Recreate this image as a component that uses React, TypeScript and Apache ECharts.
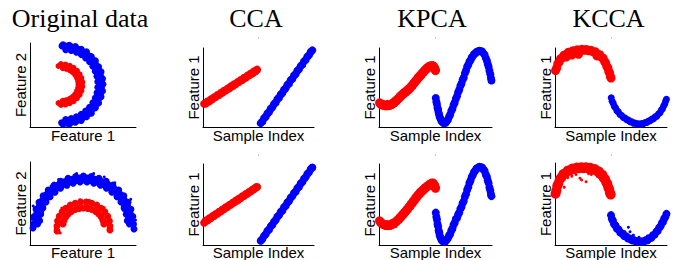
import React, { useEffect, useRef } from 'react';
import * as echarts from 'echarts';

// ---------- texts ----------
const panelTitles = ['Original data', 'CCA', 'KPCA', 'KCCA'];
const xAxisNames = ['Feature 1', 'Sample Index', 'Sample Index', 'Sample Index'];
const yAxisNames = ['Feature 2', 'Feature 1', 'Feature 1', 'Feature 1'];

type Pt = [number, number];

// ---------- Original data (Feature 1, Feature 2), row 1 ----------
const origRow1Blue: Pt[] = [
  [31.1, 98.0], [37.0, 97.2], [42.8, 95.9], [48.3, 92.5], [53.3, 89.4], [57.8, 83.9], [61.7, 78.8],
  [64.7, 71.8], [67.0, 65.6], [68.4, 57.5], [68.8, 50.9], [68.4, 42.8], [67.0, 36.1], [64.7, 28.5],
  [61.7, 22.9], [57.8, 16.5], [53.3, 12.3], [48.3, 7.8], [42.8, 5.7], [37.0, 3.3], [31.1, 3.4],
  [33.9, 96.3], [39.6, 95.1], [45.0, 92.9], [50.1, 89.5], [54.7, 85.4], [58.7, 80.3], [62.0, 74.5],
  [64.7, 68.1], [66.4, 61.3], [67.3, 54.1], [67.3, 47.0], [66.4, 39.9], [64.7, 33.1], [62.0, 26.7],
  [58.7, 20.8], [54.7, 15.7], [50.1, 11.5], [45.0, 8.2], [39.6, 6.1], [33.9, 4.9],
  [33.7, 92.1], [38.9, 91.0], [43.8, 89.0], [48.4, 86.2], [52.5, 82.2], [56.2, 77.6], [59.3, 72.4],
  [61.6, 66.5], [63.2, 60.3], [64.0, 53.8], [64.0, 47.4], [63.2, 40.8], [61.6, 34.6], [59.3, 28.8],
  [56.2, 23.6], [52.5, 18.9], [48.4, 15.0], [43.8, 12.1], [38.9, 10.1], [33.7, 9.0],
  [30.2, 96.5], [29.8, 5.0],
];
const origRow1Red: Pt[] = [
  [29.2, 75.0], [33.5, 74.4], [37.5, 72.8], [41.1, 70.3], [44.3, 66.9], [46.8, 62.7], [48.5, 58.1],
  [49.4, 53.1], [49.4, 48.1], [48.5, 43.1], [46.8, 38.3], [44.3, 34.3], [41.1, 30.8], [37.5, 28.3],
  [33.5, 26.7], [29.2, 26.2],
  [30.9, 70.1], [34.3, 69.3], [37.5, 67.6], [40.3, 65.2], [42.6, 62.1], [44.3, 58.5], [45.4, 54.6],
  [45.7, 50.6], [45.4, 46.5], [44.3, 42.6], [42.6, 39.0], [40.3, 35.9], [37.5, 33.6], [34.3, 31.9],
  [30.9, 31.1], [26.9, 72.6], [26.9, 28.6], [47.3, 56.0], [47.6, 45.5],
];

// ---------- Original data, row 2 ----------
const origRow2Blue: Pt[] = [
  [3.3, 25.3], [3.9, 34.3], [5.7, 43.1], [8.5, 51.6], [12.4, 59.3], [17.2, 66.2], [22.7, 72.1],
  [29.0, 76.9], [35.9, 80.3], [43.1, 82.4], [50.4, 83.1], [57.8, 82.4], [65.0, 80.3], [71.9, 76.9],
  [78.2, 72.1], [83.7, 66.2], [88.5, 59.3], [92.4, 51.6], [95.2, 43.1], [97.0, 34.3], [97.6, 25.3],
  [5.4, 29.6], [6.4, 38.2], [8.7, 46.5], [11.9, 54.2], [16.0, 61.3], [21.0, 67.5], [26.8, 72.5],
  [33.1, 76.5], [39.9, 79.2], [47.0, 80.6], [53.9, 80.6], [61.0, 79.2], [67.8, 76.5], [74.1, 72.5],
  [79.9, 67.5], [84.9, 61.3], [89.0, 54.2], [92.2, 46.5], [94.5, 38.2], [95.5, 29.6],
  [7.1, 25.3], [7.6, 33.6], [9.2, 41.7], [11.8, 49.4], [15.4, 56.5], [19.8, 62.8], [25.0, 68.2],
  [30.7, 72.5], [37.1, 75.7], [43.7, 77.7], [50.4, 78.3], [57.2, 77.7], [63.8, 75.7], [70.2, 72.5],
  [75.9, 68.2], [81.1, 62.8], [85.5, 56.5], [89.1, 49.4], [91.7, 41.7], [93.3, 33.6], [93.8, 25.3],
  [9.1, 29.3], [10.1, 37.1], [12.1, 44.7], [15.1, 51.7], [19.0, 58.2], [23.6, 63.7], [28.8, 68.4],
  [34.5, 72.1], [40.7, 74.5], [47.2, 75.8], [53.7, 75.8], [60.2, 74.5], [66.4, 72.1], [72.1, 68.4],
  [77.3, 63.7], [82.0, 58.2], [85.8, 51.7], [88.8, 44.7], [90.8, 37.1], [91.8, 29.3],
  [2.8, 20.5], [98.1, 19.3],
];
const origRow2BlueSpecks: Pt[] = [
  [1.5, 31.0], [99.0, 24.0], [27.0, 79.0], [80.0, 75.0], [44.0, 86.0], [60.0, 86.0], [95.0, 55.0],
  [3.0, 47.0], [70.0, 82.0], [20.0, 71.0], [12.0, 40.0], [88.0, 42.0], [99.5, 30.0], [36.0, 70.0],
];
const origRow2Red: Pt[] = [
  [25.5, 22.9], [26.0, 28.9], [27.6, 34.7], [30.3, 39.9], [33.8, 44.3], [38.0, 48.0], [42.7, 50.4],
  [47.8, 51.7], [53.1, 51.7], [58.2, 50.4], [63.0, 48.0], [67.1, 44.3], [70.6, 39.9], [73.3, 34.7],
  [74.9, 28.9], [75.4, 22.9],
  [31.2, 25.2], [32.1, 29.6], [33.7, 33.7], [36.1, 37.4], [39.0, 40.5], [42.6, 42.8], [46.4, 44.1],
  [50.4, 44.6], [54.5, 44.1], [58.3, 42.8], [61.9, 40.5], [64.8, 37.4], [67.2, 33.7], [68.8, 29.6],
  [69.7, 25.2], [25.5, 16.9], [75.4, 18.1],
];
const origRow2RedSpecks: Pt[] = [
  [24.0, 20.0], [76.5, 17.0], [47.0, 54.5], [56.0, 54.0], [30.0, 44.5], [70.0, 45.0], [28.5, 14.5],
];

// ---------- CCA (sample index, feature 1) ----------
const ccaRow1Red: Pt[] = [
  [4, 29.4], [10, 29.6], [16, 32.2], [22, 32.3], [28, 35.0], [34, 35.0], [40, 37.7], [46, 37.8],
  [52, 40.4], [58, 40.6], [64, 43.2], [70, 43.2], [76, 45.9], [82, 46.0], [88, 48.6], [94, 48.7],
  [100, 51.4], [106, 51.4], [112, 54.1], [118, 54.1], [124, 56.8], [130, 56.9], [136, 59.5],
  [142, 59.6], [148, 62.3], [154, 62.3], [160, 65.0], [166, 65.1], [172, 67.7], [178, 67.8],
  [184, 70.5], [190, 70.5], [195, 72.6],
];
const ccaRow1Blue: Pt[] = [
  [208, 4.9], [214, 7.1], [220, 11.0], [226, 13.0], [232, 17.1], [238, 19.0], [244, 23.1], [250, 25.0],
  [256, 29.1], [262, 31.0], [268, 35.1], [274, 37.0], [280, 41.1], [286, 43.0], [292, 47.1],
  [298, 49.0], [304, 53.1], [310, 55.0], [316, 59.1], [322, 61.0], [328, 65.1], [334, 67.0],
  [340, 71.1], [346, 73.0], [352, 77.1], [358, 79.0], [364, 83.1], [370, 85.0], [376, 89.1],
  [382, 91.0], [388, 95.0], [394, 97.0],
];
const ccaRow2Red: Pt[] = [
  [4, 27.5], [10, 30.1], [16, 30.3], [22, 32.9], [28, 33.0], [34, 35.6], [40, 35.8], [46, 38.3],
  [52, 38.6], [58, 41.0], [64, 41.3], [70, 43.8], [76, 44.1], [82, 46.5], [88, 46.8], [94, 49.2],
  [100, 49.6], [106, 52.0], [112, 52.3], [118, 54.8], [124, 55.0], [130, 57.5], [136, 57.8],
  [142, 60.2], [148, 60.5], [154, 62.9], [160, 63.3], [166, 65.6], [172, 66.0], [178, 68.4],
  [184, 68.8], [190, 71.1], [195, 71.5],
];
const ccaRow2Blue: Pt[] = [
  [208, 5.2], [214, 7.4], [220, 11.3], [226, 13.2], [232, 17.2], [238, 19.1], [244, 23.0], [250, 25.0],
  [256, 28.9], [262, 30.9], [268, 34.8], [274, 36.8], [280, 40.7], [286, 42.6], [292, 46.6],
  [298, 48.5], [304, 52.4], [310, 54.4], [316, 58.3], [322, 60.3], [328, 64.2], [334, 66.1],
  [340, 70.1], [346, 72.0], [352, 76.0], [358, 77.9], [364, 81.8], [370, 83.8], [376, 87.7],
  [382, 89.7], [388, 93.5], [394, 95.6],
];

// ---------- KPCA ----------
const kpcaRow1Red: Pt[] = [
  [2, 30.6], [6, 28.7], [10, 28.9], [14, 27.4], [18, 28.1], [22, 26.9], [26, 27.8], [30, 26.9],
  [34, 28.0], [38, 27.3], [42, 28.9], [46, 28.5], [50, 30.6], [54, 30.7], [58, 33.1], [62, 33.2],
  [66, 35.6], [70, 36.0], [74, 38.6], [78, 38.9], [82, 41.4], [86, 41.5], [90, 43.8], [94, 43.8],
  [98, 46.1], [102, 46.3], [106, 48.7], [110, 49.0], [114, 51.6], [118, 52.3], [122, 55.2],
  [126, 55.9], [130, 58.8], [134, 59.5], [138, 62.4], [142, 62.9], [146, 65.6], [150, 66.1],
  [154, 68.9], [158, 69.4], [162, 72.1], [166, 72.5], [170, 74.9], [174, 74.9], [178, 76.9],
  [182, 76.5], [186, 77.9], [189, 77.0], [192, 77.5], [195, 75.4], [197, 74.8], [199, 72.5],
  [200, 71.5],
];
const kpcaRow1RedSpecks: Pt[] = [
  [30, 32.5], [60, 27.5], [95, 50.0], [120, 49.0], [140, 66.5], [150, 61.5], [175, 80.5], [20, 23.5],
  [80, 45.5], [110, 54.5], [165, 68.0], [130, 53.5], [100, 41.5], [185, 81.0], [70, 31.5], [50, 26.0],
  [155, 73.5], [115, 57.0], [8, 33.5], [40, 23.5],
];
const kpcaRow1Blue: Pt[] = [
  [201, 36.8], [203, 32.0], [205, 28.9], [207, 24.3], [209, 21.9], [211, 17.8], [213, 15.6],
  [215, 12.4], [218, 10.3], [221, 7.5], [224, 6.5], [228, 5.0], [232, 5.3], [236, 5.4], [240, 7.6],
  [244, 9.2], [248, 12.9], [252, 15.8], [256, 20.2], [260, 23.2], [264, 27.9], [268, 31.1],
  [272, 35.9], [276, 39.0], [280, 43.9], [284, 47.1], [288, 51.9], [292, 55.1], [296, 59.9],
  [300, 62.6], [304, 67.9], [308, 71.6], [312, 76.4], [316, 78.8], [320, 82.7], [324, 84.6],
  [328, 88.0], [332, 89.4], [336, 92.0], [340, 93.0], [345, 95.1], [350, 95.5], [355, 96.5],
  [360, 96.0], [365, 95.6], [370, 93.2], [374, 91.3], [378, 87.2], [382, 83.8], [385, 79.7],
  [388, 76.3], [391, 71.2], [394, 66.8], [396, 62.2], [398, 58.8],
];
const kpcaRow2Red: Pt[] = [
  [2, 29.8], [6, 27.6], [10, 27.0], [14, 25.4], [18, 25.6], [22, 24.2], [26, 24.9], [30, 23.8],
  [34, 24.8], [38, 24.1], [42, 25.5], [46, 25.1], [50, 26.9], [54, 26.7], [58, 28.6], [62, 28.9],
  [66, 31.1], [70, 31.6], [74, 34.1], [78, 34.5], [82, 37.1], [86, 37.7], [90, 40.4], [94, 41.0],
  [98, 43.6], [102, 44.3], [106, 47.1], [110, 47.9], [114, 50.8], [118, 51.6], [122, 54.6],
  [126, 55.4], [130, 58.4], [134, 59.0], [138, 61.9], [142, 62.4], [146, 65.1], [150, 65.3],
  [154, 67.8], [158, 68.0], [162, 70.4], [166, 70.6], [170, 72.6], [174, 72.6], [178, 74.8],
  [182, 74.6], [186, 76.4], [189, 75.6], [192, 76.5], [195, 74.0], [197, 73.5], [199, 71.0],
  [200, 70.0],
];
const kpcaRow2RedSpecks: Pt[] = [
  [30, 28.5], [60, 23.0], [95, 47.0], [120, 49.0], [140, 64.0], [150, 60.5], [175, 78.0], [20, 21.0],
  [80, 40.5], [110, 51.5], [160, 67.5], [45, 29.5], [130, 54.0], [100, 39.5], [185, 79.0], [70, 27.5],
  [155, 71.5], [115, 55.0], [8, 32.0], [40, 20.5],
];
const kpcaRow2Blue: Pt[] = [
  [201, 40.0], [203, 35.0], [205, 31.5], [207, 26.0], [209, 23.0], [211, 18.0], [213, 15.5],
  [215, 11.6], [218, 9.4], [221, 6.4], [224, 5.6], [228, 4.0], [232, 4.4], [236, 4.6], [240, 6.9],
  [244, 8.2], [248, 11.7], [252, 13.6], [256, 17.8], [260, 20.4], [264, 25.0], [268, 27.6],
  [272, 32.0], [276, 33.2], [280, 37.6], [284, 40.0], [288, 44.6], [292, 47.0], [296, 51.6],
  [300, 54.2], [304, 59.6], [308, 62.8], [312, 68.0], [316, 71.3], [320, 76.5], [324, 79.6],
  [328, 84.0], [332, 86.4], [336, 90.0], [340, 91.4], [345, 94.5], [350, 95.2], [355, 96.6],
  [360, 96.0], [365, 95.7], [370, 93.1], [374, 91.4], [378, 87.0], [382, 83.9], [385, 79.6],
  [388, 76.4], [391, 71.0], [394, 67.4], [396, 63.0], [398, 60.3],
];

// ---------- KCCA ----------
const kccaRow1Red: Pt[] = [
  [2, 71.5], [6, 74.8], [10, 80.2], [15, 82.3], [20, 86.4], [26, 87.6], [32, 90.9], [40, 91.8],
  [48, 94.6], [56, 94.5], [64, 96.6], [72, 96.1], [80, 97.9], [88, 96.9], [96, 98.3], [104, 97.1],
  [112, 98.2], [120, 96.5], [128, 97.2], [136, 95.0], [144, 95.3], [152, 92.3], [160, 91.6],
  [166, 88.2], [172, 87.1], [177, 82.8], [181, 81.1], [185, 76.8], [189, 74.6], [192, 70.4],
  [195, 68.5], [198, 63.9], [200, 62.0],
  [84, 92.0], [40, 88.5], [150, 90.0], [60, 91.0],
];
const kccaRow1Blue: Pt[] = [
  [201, 36.9], [204, 32.5], [208, 29.9], [212, 26.0], [216, 24.4], [221, 20.7], [226, 19.2],
  [232, 15.8], [238, 14.6], [244, 12.0], [250, 11.4], [256, 9.1], [262, 8.7], [268, 6.8], [274, 6.6],
  [280, 4.9], [286, 5.0], [292, 3.8], [298, 4.2], [304, 3.5], [310, 4.5], [316, 4.2], [322, 5.7],
  [328, 5.8], [334, 7.6], [340, 7.9], [346, 10.0], [352, 10.6], [358, 12.9], [364, 13.8],
  [370, 16.7], [375, 18.1], [380, 21.4], [384, 23.1], [388, 26.7], [392, 29.1], [395, 32.7],
  [398, 35.1],
];
const kccaRow2Red: Pt[] = [
  [2, 62.5], [5, 66.4], [8, 72.0], [12, 75.0], [17, 80.1], [23, 82.4], [30, 86.6], [38, 87.8],
  [46, 90.9], [54, 91.0], [62, 93.2], [70, 92.7], [78, 94.4], [86, 93.6], [94, 94.9], [102, 93.7],
  [110, 94.8], [118, 93.4], [126, 94.2], [134, 92.4], [142, 92.6], [150, 90.0], [157, 89.6],
  [163, 86.5], [169, 85.6], [174, 81.8], [179, 80.3], [183, 76.4], [187, 74.5], [190, 70.4],
  [193, 68.3], [196, 63.9], [199, 61.5],
];
const kccaRow2RedSpecks: Pt[] = [
  [33, 70.4], [95, 79.3], [111, 77.2], [89, 81.4], [60, 84.0], [130, 86.0], [150, 84.0], [170, 78.0],
  [45, 82.0], [120, 87.0], [75, 86.0], [185, 69.0], [140, 88.0], [20, 73.0], [160, 82.0],
];
const kccaRow2Blue: Pt[] = [
  [200, 36.4], [203, 31.9], [207, 29.6], [211, 25.4], [216, 23.8], [221, 20.2], [227, 18.8],
  [233, 15.2], [240, 14.1], [247, 11.0], [254, 10.6], [261, 8.0], [268, 7.9], [275, 5.6], [282, 5.9],
  [289, 4.2], [296, 4.8], [303, 3.8], [310, 4.6], [317, 4.0], [324, 5.9], [331, 5.8], [338, 8.4],
  [344, 8.8], [350, 11.9], [356, 12.7], [362, 16.3], [367, 17.4], [372, 21.2], [377, 22.8],
  [382, 27.0], [386, 28.4], [390, 32.4], [394, 34.0], [398, 38.0],
];
const kccaRow2BlueSpecks: Pt[] = [
  [262, 21.6], [268, 16.2], [363, 18.3], [250, 16.0], [280, 12.0], [330, 11.0], [345, 14.0], [300, 9.5],
];

// ---------- layout (pixels) ----------
const RED = '#ff0000';
const BLUE = '#0000ff';
// [left, top, right, bottom]
const boxes: number[][] = [
  [30, 43, 136, 127], [203, 48, 314, 127], [379, 48, 492, 127], [555, 48, 667, 127],
  [30, 162, 136, 245], [203, 164, 314, 245], [379, 164, 492, 245], [555, 163, 667, 245],
];
const titleCenters = [80, 256, 432, 608.5];

type S = { data: Pt[]; color: string; size: number };
const panelSeries: S[][] = [
  [{ data: origRow1Blue, color: BLUE, size: 7 }, { data: origRow1Red, color: RED, size: 6 }],
  [{ data: ccaRow1Red, color: RED, size: 8 }, { data: ccaRow1Blue, color: BLUE, size: 8 }],
  [
    { data: kpcaRow1Red, color: RED, size: 9 }, { data: kpcaRow1RedSpecks, color: RED, size: 3 },
    { data: kpcaRow1Blue, color: BLUE, size: 8 },
  ],
  [{ data: kccaRow1Red, color: RED, size: 9 }, { data: kccaRow1Blue, color: BLUE, size: 7 }],
  [
    { data: origRow2Blue, color: BLUE, size: 7 }, { data: origRow2BlueSpecks, color: BLUE, size: 3 },
    { data: origRow2Red, color: RED, size: 7 }, { data: origRow2RedSpecks, color: RED, size: 3 },
  ],
  [{ data: ccaRow2Red, color: RED, size: 8 }, { data: ccaRow2Blue, color: BLUE, size: 8 }],
  [
    { data: kpcaRow2Red, color: RED, size: 9 }, { data: kpcaRow2RedSpecks, color: RED, size: 3 },
    { data: kpcaRow2Blue, color: BLUE, size: 8 },
  ],
  [
    { data: kccaRow2Red, color: RED, size: 10 }, { data: kccaRow2RedSpecks, color: RED, size: 3 },
    { data: kccaRow2Blue, color: BLUE, size: 8 }, { data: kccaRow2BlueSpecks, color: BLUE, size: 3 },
  ],
];

const SANS = '"Liberation Sans", Arial, sans-serif';
const SERIF = '"Liberation Serif", "Times New Roman", serif';

function buildOption() {
  const axisBase = {
    type: 'value' as const,
    axisLine: { show: true, onZero: false, lineStyle: { color: '#000', width: 1 } },
    axisTick: { show: false },
    axisLabel: { show: false },
    splitLine: { show: false },
    nameLocation: 'middle' as const,
    nameTextStyle: { fontFamily: SANS, fontSize: 15, color: '#000' },
  };
  const grid = boxes.map((b) => ({
    left: b[0], top: b[1], width: b[2] - b[0], height: b[3] - b[1],
    containLabel: false, outerBoundsMode: 'none',
  }));
  const xAxis = boxes.map((_, i) => ({
    ...axisBase, gridIndex: i, min: 0, max: i % 4 === 0 ? 100 : 400,
    name: xAxisNames[i % 4], nameGap: i < 4 ? 1 : 0,
  }));
  const yAxis = boxes.map((_, i) => ({
    ...axisBase, gridIndex: i, min: 0, max: 100,
    name: yAxisNames[i % 4], nameGap: 2, nameRotate: 90,
  }));
  const series: any[] = [];
  panelSeries.forEach((list, i) => {
    list.forEach((s) => {
      series.push({
        type: 'scatter', xAxisIndex: i, yAxisIndex: i, data: s.data,
        symbol: 'circle', symbolSize: s.size, silent: true,
        itemStyle: { color: s.color, opacity: 1 },
      });
    });
  });
  const graphic: any[] = panelTitles.map((t, i) => ({
    type: 'text', x: titleCenters[i], y: 18,
    style: {
      text: t, font: `26px ${SERIF}`, fill: '#000',
      textAlign: 'center', textVerticalAlign: 'middle', align: 'center', verticalAlign: 'middle',
    },
  }));
  [[258, 37], [435, 37], [611, 37], [258, 154], [435, 154], [611, 154]].forEach(([x, y]) => {
    graphic.push({ type: 'rect', shape: { x, y, width: 1, height: 2 }, style: { fill: '#cccccc' } });
  });
  return { animation: false, backgroundColor: '#ffffff', grid, xAxis, yAxis, series, graphic };
}

export default function App() {
  const ref = useRef<HTMLDivElement>(null);
  useEffect(() => {
    if (!ref.current) return;
    const chart = echarts.init(ref.current, undefined, { renderer: 'svg' });
    chart.setOption(buildOption() as any);
    return () => chart.dispose();
  }, []);
  return (
    <div
      ref={ref}
      style={{ position: 'absolute', left: 0, top: 0, width: 689, height: 260, background: '#fff' }}
    />
  );
}
